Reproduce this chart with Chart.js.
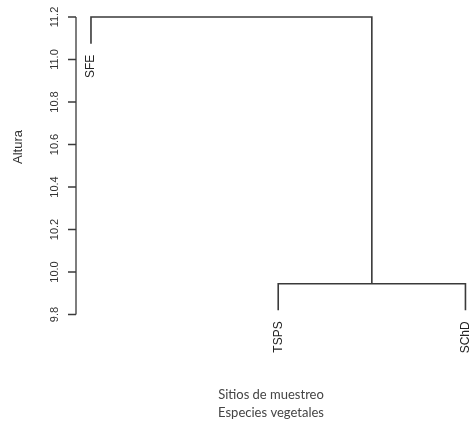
<!DOCTYPE html>
<html>
<head>
<meta charset="utf-8">
<script src="https://cdn.jsdelivr.net/npm/chart.js@4"></script>
<style>
  html,body{margin:0;padding:0;background:#fff;}
  #wrap{width:475px;height:423px;position:relative;}
</style>
</head>
<body>
<div id="wrap"><canvas id="c" width="475" height="423"></canvas></div>
<script>
// ---- data ----
const leaves = ['SFE', 'TSPS', 'SChD'];          // leaf labels, left to right
const mergePairs = [[-2, -3], [-1, 1]];           // R-style merge matrix (negative = leaf)
const mergeHeights = [9.945, 11.2];               // merge heights
const yTicks = [9.8, 10.0, 10.2, 10.4, 10.6, 10.8, 11.0, 11.2];
const yTitle = 'Altura';
const xTitleLines = ['Sitios de muestreo', 'Especies vegetales'];
const hang = 0.1;

// ---- build dendrogram segments from the merge structure ----
const range = Math.max(...mergeHeights) - Math.min(...mergeHeights);
const clusterX = [];
const leafEnds = {};
const segments = [];
mergePairs.forEach((pair, i) => {
  const H = mergeHeights[i];
  const pts = pair.map(id => {
    if (id < 0) {
      const li = -id - 1;
      const h = H - hang * range;
      leafEnds[li] = h;
      return {x: li + 1, h: h};
    }
    return {x: clusterX[id - 1], h: mergeHeights[id - 1]};
  });
  clusterX[i] = (pts[0].x + pts[1].x) / 2;
  segments.push([
    {x: pts[0].x, y: pts[0].h},
    {x: pts[0].x, y: H},
    {x: pts[1].x, y: H},
    {x: pts[1].x, y: pts[1].h}
  ]);
});

const lineColor = '#3a3a3a';
const datasets = segments.map(seg => ({
  data: seg,
  showLine: true,
  borderColor: lineColor,
  borderWidth: 1.6,
  pointRadius: 0,
  tension: 0,
  clip: false
}));

const decor = {
  id: 'decor',
  afterDraw(chart) {
    const ctx = chart.ctx;
    const xs = chart.scales.x, ys = chart.scales.y;
    const ax = chart.chartArea.left;
    ctx.save();
    // y axis line + ticks
    ctx.strokeStyle = lineColor;
    ctx.lineWidth = 1.3;
    ctx.beginPath();
    ctx.moveTo(ax, ys.getPixelForValue(yTicks[0]));
    ctx.lineTo(ax, ys.getPixelForValue(yTicks[yTicks.length - 1]));
    yTicks.forEach(t => {
      const py = ys.getPixelForValue(t);
      ctx.moveTo(ax - 8, py);
      ctx.lineTo(ax, py);
    });
    ctx.stroke();
    // tick labels (rotated)
    ctx.fillStyle = '#333';
    ctx.font = '11px "Liberation Sans", Arial, sans-serif';
    ctx.textAlign = 'center';
    ctx.textBaseline = 'middle';
    yTicks.forEach(t => {
      const py = ys.getPixelForValue(t);
      ctx.save();
      ctx.translate(ax - 21, py);
      ctx.rotate(-Math.PI / 2);
      ctx.fillText(t.toFixed(1), 0, 0);
      ctx.restore();
    });
    // y title
    ctx.font = '13px "Liberation Sans", Arial, sans-serif';
    ctx.save();
    ctx.translate(18, 147);
    ctx.rotate(-Math.PI / 2);
    ctx.fillText(yTitle, 0, 0);
    ctx.restore();
    // leaf labels
    ctx.fillStyle = '#222';
    ctx.font = '12px "Liberation Sans", Arial, sans-serif';
    ctx.textAlign = 'right';
    leaves.forEach((lab, i) => {
      const px = xs.getPixelForValue(i + 1);
      const py = ys.getPixelForValue(leafEnds[i]) + 11;
      ctx.save();
      ctx.translate(px, py);
      ctx.rotate(-Math.PI / 2);
      ctx.fillText(lab, 0, 0);
      ctx.restore();
    });
    // x title
    ctx.fillStyle = '#444';
    ctx.font = '13px Lato, "Open Sans", sans-serif';
    ctx.textAlign = 'center';
    xTitleLines.forEach((l, i) => ctx.fillText(l, 271, 395 + i * 18));
    ctx.restore();
  }
};

new Chart(document.getElementById('c'), {
  type: 'scatter',
  data: {datasets},
  options: {
    responsive: false,
    animation: false,
    events: [],
    layout: {padding: {left: 76, top: 17, right: 0, bottom: 108.5}},
    plugins: {legend: {display: false}, tooltip: {enabled: false}},
    scales: {
      x: {type: 'linear', display: false, min: 0.92, max: 3.051},
      y: {type: 'linear', display: false, min: 9.8, max: 11.2}
    }
  },
  plugins: [decor]
});
</script>
</body>
</html>
